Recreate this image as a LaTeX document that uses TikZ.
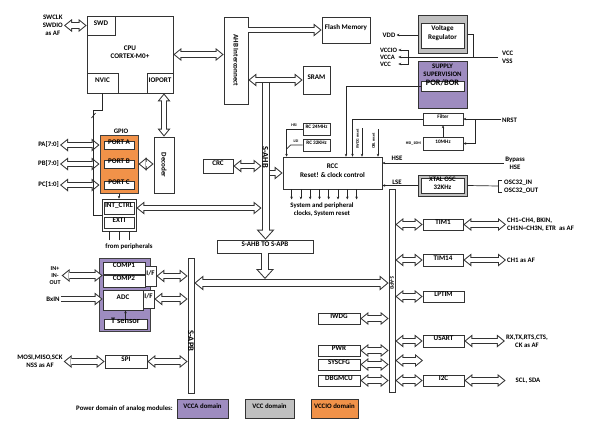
\documentclass[tikz,border=0pt]{standalone}
\usepackage{fontspec}
\setmainfont{Carlito}
\usetikzlibrary{arrows.meta, fit, calc}

\definecolor{vccapurple}{RGB}{158,140,192}
\definecolor{vccgray}{RGB}{192,192,192}
\definecolor{vccioorange}{RGB}{241,146,73}

\newcommand{\lblfont}{\fontsize{6.8}{8.2}\selectfont\bfseries}
\newcommand{\boxfont}{\fontsize{7.1}{8.2}\selectfont\bfseries}
\newcommand{\bigfont}{\fontsize{8.3}{9}\selectfont\bfseries}
\newcommand{\smlfont}{\fontsize{5.2}{6}\selectfont\bfseries}
\newcommand{\tnyfont}{\fontsize{4}{5}\selectfont\bfseries}
\newcommand{\busfont}{\fontsize{8.5}{9}\selectfont\bfseries}

\tikzstyle{block} = [rectangle, draw=black!80, line width=0.8pt, fill=white, inner sep=0pt, align=center, font=\boxfont]
\tikzstyle{busbar} = [rectangle, draw=black!80, line width=0.8pt, fill=white, inner sep=0pt]
\tikzstyle{txt} = [inner sep=1pt, align=center, font=\lblfont]
\tikzstyle{wire} = [line width=0.7pt, black!85]
\tikzstyle{arrow} = [line width=0.7pt, black!85, -{Stealth[length=2.8pt,width=2.6pt]}]
\tikzstyle{fatboth} = [line width=4.4pt, white, {Triangle[length=5.4pt,width=8.8pt,line width=0pt]}-{Triangle[length=5.4pt,width=8.8pt,line width=0pt]}, shorten <=1.6pt, shorten >=1.6pt, preaction={draw, black!80, line width=6.4pt, {Triangle[length=8pt,width=13pt,line width=0pt]}-{Triangle[length=8pt,width=13pt,line width=0pt]}, shorten <=0pt, shorten >=0pt}]
\tikzstyle{fatone} = [line width=4.4pt, white, -{Triangle[length=5.4pt,width=8.8pt,line width=0pt]}, shorten >=1.6pt, preaction={draw, black!80, line width=6.4pt, -{Triangle[length=8pt,width=13pt,line width=0pt]}, shorten >=0pt}]
\tikzstyle{busarrow} = [line width=6pt, white, -{Triangle[length=7.5pt,width=13.5pt,line width=0pt]}, shorten >=1.5pt, preaction={draw, black!80, line width=8pt, -{Triangle[length=10pt,width=18pt,line width=0pt]}, shorten >=0pt}]
\tikzstyle{busboth} = [line width=6pt, white, {Triangle[length=6.4pt,width=10.7pt,line width=0pt]}-{Triangle[length=6.4pt,width=10.7pt,line width=0pt]}, shorten <=1.6pt, shorten >=1.6pt, preaction={draw, black!80, line width=8pt, {Triangle[length=9pt,width=15pt,line width=0pt]}-{Triangle[length=9pt,width=15pt,line width=0pt]}, shorten <=0pt, shorten >=0pt}]

\begin{document}
\begin{tikzpicture}[x=1pt, y=-1pt]
\useasboundingbox (0,0) rectangle (597,437);

% core
\node (cpu) [block, fit={(87,16) (173,93)}] {CPU\\CORTEX-M0+};
\node (swd) [block, fit={(87,16) (115,35)}] {SWD};
\node (nvic) [block, fit={(87,73) (118,93)}] {NVIC};
\node (ioport) [block, fit={(147,73) (173,93)}] {IOPORT};
\node (swlbl) [txt, anchor=east] at (64,25) {SWCLK\\SWDIO\\as AF};
\node (ahb) [block, fit={(224,17) (248,104)}] {\rotatebox{-90}{AHB Interconnect}};
\node (flash) [block, fit={(322,17) (370,43)}] {Flash Memory};
\node (sram) [block, fit={(303,66) (330,94)}] {SRAM};

% power
\node (vreg) [block, fill=vccgray, line width=1pt, fit={(418,15) (467,53)}] {};
\node (vregin) [block, fit={(421,23) (464,48)}] {Voltage\\Regulator};
\node (supply) [block, fill=vccapurple, line width=1pt, fit={(418,61) (467,108)}] {};
\node (suptxt) [txt] at (442.5,70) {SUPPLY\\SUPERVISION};
\node (por) [block, font=\bigfont, fit={(421,81) (464,91)}] {POR/BOR};
\node (vdd) [txt] at (389,35) {VDD};
\node (vccs) [txt, anchor=west, align=left, font=\fontsize{6.6}{7}\selectfont\bfseries] at (379,57) {VCCIO\\VCCA\\VCC};
\node (vccvss) [txt, anchor=west, align=left] at (501,57.5) {VCC\\VSS};
\coordinate (vccin) at (498,57);
\coordinate (vregj) at (473,57);
\coordinate (vbr) at (408,57);

% reset and clocks
\node (filter) [block, font=\smlfont, fit={(423,113) (463,125)}] {Filter};
\node (osc10) [block, font=\smlfont, fit={(423,137) (463,150)}] {10MHz};
\node (hsi10) [txt, font=\tnyfont, anchor=east] at (422,143) {HSI\_10M};
\node (nrst) [txt, anchor=west] at (501,120) {NRST};
\coordinate (nrstbr) at (475,119);
\node (rc24) [block, font=\smlfont, fit={(303,123) (330,135)}] {RC 24MHz};
\node (rc32) [block, font=\smlfont, fit={(303,139) (330,151)}] {RC 32KHz};
\node (hsi) [txt, font=\tnyfont] at (294,125) {HSI};
\node (lsi) [txt, font=\tnyfont] at (296,141) {LSI};
\node (rcc) [block, fit={(283,157) (382,189)}] {RCC\\Reset! \& clock control};
\node (iwdgrst) [txt, font=\tnyfont, rotate=90] at (357.5,139) {IWDG reset};
\node (oblrst) [txt, font=\tnyfont, rotate=90] at (373.5,141) {OBL reset};
\coordinate (iwdgin) at (362,128);
\coordinate (oblin) at (378,129);
\node (hselbl) [txt] at (397,158) {HSE};
\node (lselbl) [txt] at (397,182) {LSE};
\node (bypass) [txt] at (515,163) {Bypass\\HSE};
\node (xtal) [block, fill=vccgray, line width=1pt, fit={(418,175) (467,196)}] {};
\node (xtalin) [block, font=\fontsize{6.8}{7.4}\selectfont\bfseries, fit={(421,178) (464,193)}] {XTAL OSC\\32KHz};
\node (osc32) [txt, anchor=west, align=left] at (503,186.5) {OSC32\_IN\\OSC32\_OUT};
\coordinate (oscbr) at (498,186);
\node (sysclk) [txt] at (322,210) {System and peripheral\\clocks, System reset};
\node (crc) [block, fit={(203,159) (233,173)}] {CRC};

% gpio
\node (gpiolbl) [txt] at (121,131) {GPIO};
\node (gpio) [block, fill=vccioorange, draw=black!75, line width=1pt, fit={(100,135) (138,193)}] {};
\node (porta) [block, fit={(104,141) (134,149)}] {PORT A};
\node (portb) [block, fit={(104,160) (134,168)}] {PORT B};
\node (portc) [block, fit={(104,181) (134,189)}] {PORT C};
\node (pa) [txt, anchor=east] at (60,145) {PA[7:0]};
\node (pb) [txt, anchor=east] at (60,164) {PB[7:0]};
\node (pc) [txt, anchor=east] at (60,185) {PC[1:0]};
\node (decoder) [block, fit={(154,137) (174,193)}] {\rotatebox{-90}{Decoder}};
\node (extgrp) [block, fit={(102,199) (136,231)}] {};
\node (intctrl) [block, fit={(104,202) (134,214)}] {INT\_CTRL};
\node (exti) [block, fit={(104,217) (134,228)}] {EXTI};
\node (fromper) [txt] at (129,247) {from peripherals};

% buses
\node (bridge) [block, fit={(217,240) (313,253)}] {S-AHB TO S-APB};
\node (apbl) [busbar, fit={(188,258) (194,393)}] {};
\node (apbr) [busbar, fit={(389,189) (395,392)}] {};
\coordinate (sahbtop) at (265.5,80);
\coordinate (sahbL) at (261.5,0);
\coordinate (sahbR) at (269.5,0);
\coordinate (hbus) at (0,283);
\coordinate (hbustop) at (0,279);

% analog
\node (vcca) [block, fill=vccapurple, draw=black!75, line width=1pt, fit={(99,258) (150,331)}] {};
\node (comp1) [block, fit={(103,262) (145,274)}] {COMP1};
\node (comp2) [block, fit={(103,275) (145,287)}] {COMP2};
\node (adc) [block, fit={(103,290) (143,310)}] {ADC};
\node (tsens) [block, font=\bigfont, fit={(104,319) (147,329)}] {T sensor};
\node (if1) [block, fit={(145,266) (156,286)}] {I/F};
\node (if2) [block, fit={(143,290) (154,308)}] {I/F};
\node (inlbl) [txt, font=\fontsize{6}{6.6}\selectfont\bfseries] at (55,275.5) {IN+\\IN-\\OUT};
\node (bxin) [txt] at (53,299) {BxIN};
\node (spilbl) [txt] at (40,361.5) {MOSI,MISO,SCK\\NSS as AF};
\node (spi) [block, fit={(105,355) (147,368)}] {SPI};

% apb peripherals
\node (tim1) [block, fit={(423,219) (463,230)}] {TIM1};
\node (tim14) [block, fit={(423,254) (463,266)}] {TIM14};
\node (lptim) [block, fit={(423,291) (464,302)}] {LPTIM};
\node (usart) [block, fit={(423,335) (464,347)}] {USART};
\node (i2c) [block, fit={(423,375) (464,386)}] {I2C};
\node (iwdg) [block, fit={(318,313) (360,324)}] {IWDG};
\node (pwr) [block, fit={(318,345) (360,356)}] {PWR};
\node (syscfg) [block, fit={(318,359) (360,370)}] {SYSCFG};
\node (dbgmcu) [block, fit={(318,375) (360,386)}] {DBGMCU};
\node (tim1lbl) [txt, anchor=west, align=left] at (506,224.5) {CH1\textasciitilde CH4, BKIN,\\CH1N\textasciitilde CH3N, ETR\ \ as AF};
\node (tim14lbl) [txt, anchor=west] at (506,260) {CH1 as AF};
\node (usartlbl) [txt] at (527,341) {RX,TX,RTS,CTS,\\CK as AF};
\node (i2clbl) [txt] at (528,380.5) {SCL, SDA};
\coordinate (spare) at (423,360.5);

% legend
\node (legend) [txt, anchor=east] at (174,409) {Power domain of analog modules:};
\node (legvcca) [block, font=\lblfont, fill=vccapurple, fit={(177,399) (228,418)}] {VCCA domain};
\node (legvcc) [block, font=\lblfont, fill=vccgray, fit={(245,399) (294,418)}] {VCC domain};
\node (legvccio) [block, font=\lblfont, fill=vccioorange, fit={(311,399) (358,418)}] {VCCIO domain};

% core connectors
\draw [fatboth] (swd.west -| swlbl.east) -- (swd.west);
\draw [fatboth] (cpu.east) -- (cpu.east -| ahb.west);
\draw [fatone] (flash.west -| ahb.east) -- (flash.west);
\draw [busarrow] (sahbtop) -- (sahbtop |- bridge.north);
\draw [fatboth] (sram.west -| ahb.east) -- (sram.west);
\draw [fatboth] (decoder.north |- ioport.south) -- (decoder.north);
\draw [fatboth] (gpio.east |- portb) -- (decoder.west |- portb);
\draw [fatboth] (pa.east) -- (gpio.west |- pa.east);
\draw [fatboth] (pb.east) -- (gpio.west |- pb.east);
\draw [fatboth] (pc.east) -- (gpio.west |- pc.east);
\draw [wire] (nvic.south) |- ++(-9,17) |- (extgrp.west);
\draw [wire] (91.5,118) -- (95.5,113);
\draw [arrow] (portc.south |- gpio.south) -- (portc.south |- extgrp.north);
\draw [wire] ($(extgrp.south)+(-10,9)$) -- ($(extgrp.south)+(-10,0)$);
\draw [wire] ($(extgrp.south)+(0,9)$) -- ($(extgrp.south)+(0,0)$);
\draw [wire] ($(extgrp.south)+(10,9)$) -- ($(extgrp.south)+(10,0)$);
\draw [fatboth] (extgrp.east |- intctrl) -- (intctrl -| sahbL);
\draw [fatboth] (crc.east) -- (crc.east -| sahbL);
\draw [fatone] (rcc.west -| sahbR) -- (rcc.west);

% power connectors
\draw [arrow] (vreg.west |- vdd) -- (vdd.east);
\draw [arrow] (vccin) -- (vccs.east);
\draw [arrow] (vbr) |- ($(vccs.east)+(0,-7)$);
\draw [arrow] (vbr) |- ($(vccs.east)+(0,7)$);
\draw [wire] (vreg.east) -| (vregj);

% reset and clock connectors
\draw [arrow] (por.west) -| ($(rcc.north)+(13.5,0)$);
\draw [arrow] (filter.west) -| ($(rcc.north)+(20,0)$);
\draw [arrow] (iwdgin) -- (iwdgin |- rcc.north);
\draw [arrow] (oblin) -- (oblin |- rcc.north);
\draw [arrow] (filter.east -| nrst.west) -- (filter.east);
\draw [arrow] (nrstbr) |- (osc10.east);
\draw [arrow] (osc10.north) -- (filter.south);
\draw [arrow] (rc24.west) -| ($(rcc.north west)+(4,0)$);
\draw [wire] (rc32.west) -- ++(-12,0) -- ++(-4,4);
\draw [arrow] (bypass.west) -- (bypass.west -| rcc.east);
\draw [arrow] (xtal.west) -- (xtal.west -| rcc.east);
\draw [wire] (xtal.east) -- (oscbr);
\draw [wire] ($(oscbr)+(4,-6)$) -- ++(-4,0) -- ++(0,12) -- ++(4,0);
\draw [arrow] ($(rcc.south west)+(9,0)$) -- ++(0,10);
\draw [arrow] ($(rcc.south west)+(18.3,0)$) -- ++(0,10);
\draw [arrow] ($(rcc.south west)+(27.6,0)$) -- ++(0,10);
\draw [arrow] ($(rcc.south west)+(36.9,0)$) -- ++(0,10);
\draw [arrow] ($(rcc.south west)+(46.1,0)$) -- ++(0,10);
\draw [arrow] ($(rcc.south west)+(55.4,0)$) -- ++(0,10);
\draw [arrow] ($(rcc.south west)+(64.7,0)$) -- ++(0,10);
\draw [arrow] ($(rcc.south west)+(74,0)$) -- ++(0,10);

% bus connectors
\draw [busboth] (apbl.east |- hbus) -- (apbr.west |- hbus);
\draw [busarrow] (bridge.south) -- (bridge.south |- hbustop);

% analog connectors
\draw [fatboth] (inlbl.east) -- (inlbl.east -| comp2.west);
\draw [fatone] (bxin.east) -- (bxin.east -| adc.west);
\draw [fatboth] (if1.east) -- (if1.east -| apbl.west);
\draw [fatboth] (if2.east) -- (if2.east -| apbl.west);
\draw [arrow] (tsens.north) -- (tsens.north |- adc.south);
\draw [fatboth] (spi.west -| spilbl.east) -- (spi.west);
\draw [fatboth] (spi.east) -- (spi.east -| apbl.west);

% apb peripheral connectors
\draw [fatboth] (tim1.west -| apbr.east) -- (tim1.west);
\draw [fatboth] (tim14.west -| apbr.east) -- (tim14.west);
\draw [fatboth] (lptim.west -| apbr.east) -- (lptim.west);
\draw [fatboth] (usart.west -| apbr.east) -- (usart.west);
\draw [fatboth] (spare -| apbr.east) -- (spare);
\draw [fatboth] (i2c.west -| apbr.east) -- (i2c.west);
\draw [fatboth] (iwdg.east) -- (iwdg.east -| apbr.west);
\draw [fatboth] (pwr.east) -- (pwr.east -| apbr.west);
\draw [fatboth] (syscfg.east) -- (syscfg.east -| apbr.west);
\draw [fatboth] (dbgmcu.east) -- (dbgmcu.east -| apbr.west);
\draw [fatboth] (tim1.east) -- (tim1.east -| tim1lbl.west);
\draw [fatboth] (tim14.east) -- (tim14.east -| tim14lbl.west);
\draw [fatboth] (usart.east) -- (usart.east -| usartlbl.west);
\draw [fatboth] (i2c.east) -- ([xshift=-9pt]i2clbl.west);

% bus labels
\node (sahblbl) [txt, font=\busfont, rotate=-90] at (265.5,157) {S-AHB};
\node (apbllbl) [txt, font=\busfont, rotate=-90] at (191,341) {S-APB};
\node (apbrlbl) [txt, font=\smlfont, rotate=-90] at (392,283) {S-APB};

\end{tikzpicture}
\end{document}
